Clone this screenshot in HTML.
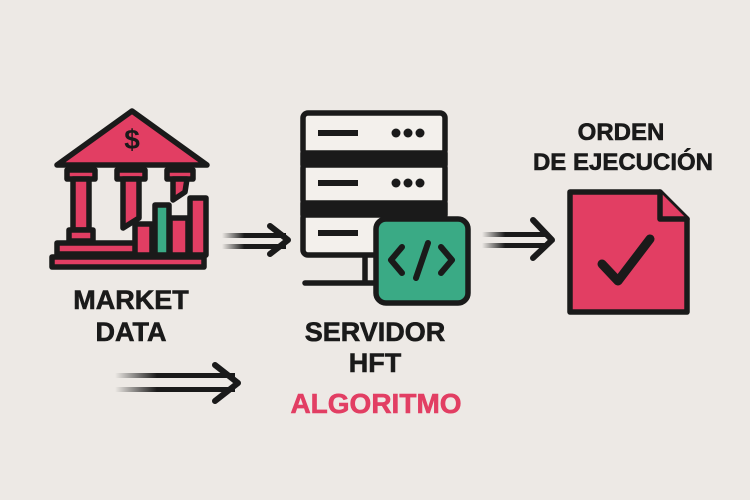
<!DOCTYPE html>
<html><head><style>
body{margin:0;width:750px;height:500px;background:#ede9e5;overflow:hidden}
svg{display:block}
text{font-family:"Liberation Sans",sans-serif;font-weight:bold}
</style></head><body>
<svg width="750" height="500" viewBox="0 0 750 500">
<defs>
<linearGradient id="fd" x1="0" x2="1"><stop offset="0" stop-color="#1a1a1a" stop-opacity="0"/><stop offset="0.35" stop-color="#1a1a1a"/></linearGradient>
</defs>
<g stroke="#1a1a1a" stroke-width="5.5" stroke-linejoin="round" stroke-linecap="round">
<!-- bank -->
<polygon points="132,111 57,165 207,165" fill="#e23e63"/>
<rect x="67" y="170" width="28" height="9" fill="#e23e63"/>
<rect x="117" y="170" width="28" height="9" fill="#e23e63"/>
<rect x="167" y="170" width="26" height="9" fill="#e23e63"/>
<rect x="73" y="179" width="16" height="51" fill="#e23e63"/>
<polygon points="123,179 139,179 139,218 123,228" fill="#e23e63"/>
<polygon points="173,179 187,179 185,192 173,200" fill="#e23e63"/>
<rect x="69" y="230" width="24" height="11" fill="#e23e63"/>
<rect x="57" y="243" width="82" height="11" fill="#e23e63"/>
<rect x="52" y="257" width="152" height="10" fill="#e23e63"/>
<rect x="135" y="224" width="17" height="31" fill="#e23e63"/>
<rect x="155" y="205" width="14" height="50" fill="#3aaa85"/>
<rect x="170" y="218" width="18" height="37" fill="#e23e63"/>
<rect x="190" y="198" width="16" height="57" fill="#e23e63"/>
<!-- server -->
<rect x="303" y="113" width="142" height="42" rx="5" fill="#f3f0ec"/>
<rect x="303" y="163" width="142" height="42" rx="5" fill="#f3f0ec"/>
<rect x="303" y="213" width="142" height="42" rx="5" fill="#f3f0ec"/>
<rect x="303" y="153" width="142" height="12" fill="#1a1a1a"/>
<rect x="303" y="203" width="142" height="12" fill="#1a1a1a"/>
<line x1="365" y1="257" x2="365" y2="282"/>
<line x1="305" y1="283" x2="380" y2="283"/>
<rect x="376" y="219" width="92" height="84" rx="10" fill="#3aaa85"/>
<polyline points="402,247 391,260 402,273" fill="none" stroke-width="6"/>
<polyline points="441,247 452,260 441,273" fill="none" stroke-width="6"/>
<line x1="428" y1="243" x2="416" y2="278" stroke-width="6"/>
<!-- doc -->
<polygon points="570,192 660,192 687,219 687,312 570,312" fill="#e23e63"/>
<polyline points="660,192 660,219 687,219" fill="#e23e63"/>
<polyline points="602,264 618,281 650,239" fill="none" stroke-width="9"/>
<!-- arrow heads -->
<polyline points="270,226 288,240 270,254" fill="none" stroke-width="6"/>
<polyline points="533,220 552,240 533,258" fill="none" stroke-width="6"/>
<polyline points="215,365 238,383 215,401" fill="none" stroke-width="6"/>
</g>
<g fill="#1a1a1a">
<rect x="318" y="130" width="40" height="6"/><circle cx="396" cy="133" r="4.5"/><circle cx="408" cy="133" r="4.5"/><circle cx="420" cy="133" r="4.5"/>
<rect x="318" y="180" width="40" height="6"/><circle cx="396" cy="183" r="4.5"/><circle cx="408" cy="183" r="4.5"/><circle cx="420" cy="183" r="4.5"/>
<rect x="318" y="230" width="40" height="6"/>
</g>
<g fill="url(#fd)">
<rect x="222" y="233" width="64" height="5"/><rect x="222" y="244" width="64" height="5"/>
<rect x="482" y="232" width="66" height="5"/><rect x="482" y="243" width="66" height="5"/>
<rect x="115" y="373" width="120" height="5"/><rect x="115" y="387" width="120" height="5"/>
</g>
<text x="132" y="149" font-size="28" text-anchor="middle" fill="#1a1a1a">$</text>
<g fill="#1a1a1a" text-anchor="middle" stroke="#1a1a1a" stroke-width="0.6">
<text x="131" y="309" font-size="27">MARKET</text>
<text x="131" y="341" font-size="27">DATA</text>
<text x="375" y="341" font-size="27">SERVIDOR</text>
<text x="375" y="372" font-size="27">HFT</text>
<text x="621" y="140" font-size="24">ORDEN</text>
<text x="623" y="170" font-size="24">DE EJECUCIÓN</text>
</g>
<text x="376" y="413" font-size="28" text-anchor="middle" fill="#e23e63" stroke="#e23e63" stroke-width="0.6">ALGORITMO</text>
</svg>
</body></html>
